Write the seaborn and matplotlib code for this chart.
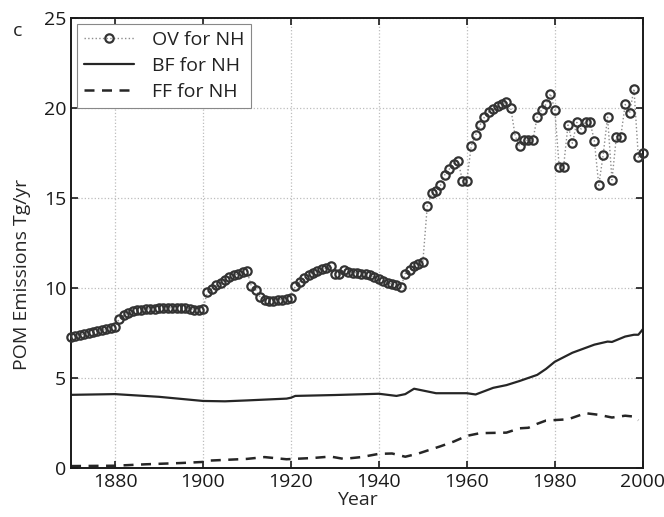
import numpy as np
import matplotlib
matplotlib.use("Agg")
import matplotlib.pyplot as plt
import seaborn as sns

# OV emissions, one value per year 1870-2000
ov_years = np.arange(1870, 2001)
ov_vals = [
    7.25, 7.35, 7.4, 7.45, 7.5, 7.55, 7.6, 7.65, 7.7, 7.8, 7.85,
    8.3, 8.5, 8.6, 8.7, 8.75, 8.8, 8.82, 8.85, 8.85, 8.88,
    8.9, 8.9, 8.9, 8.9, 8.9, 8.88, 8.85, 8.8, 8.75, 8.85,
    9.75, 9.95, 10.15, 10.3, 10.45, 10.6, 10.7, 10.8, 10.9, 10.95,
    10.1, 9.9, 9.5, 9.35, 9.25, 9.3, 9.35, 9.35, 9.4, 9.45,
    10.1, 10.35, 10.55, 10.7, 10.85, 10.95, 11.05, 11.1, 11.2, 10.8,
    10.75, 11.0, 10.9, 10.85, 10.85, 10.8, 10.75, 10.7, 10.6, 10.5,
    10.4, 10.3, 10.2, 10.15, 10.05, 10.8, 11.0, 11.2, 11.35, 11.45,
    14.56, 15.26, 15.4, 15.7, 16.3, 16.6, 16.9, 17.07, 15.96, 15.96,
    17.9, 18.5, 19.06, 19.5, 19.8, 19.95, 20.1, 20.2, 20.35, 19.98,
    18.44, 17.9, 18.2, 18.2, 18.2, 19.5, 19.9, 20.2, 20.8, 19.9,
    16.74, 16.74, 19.06, 18.04, 19.2, 18.83, 19.24, 19.24, 18.17, 15.7,
    17.4, 19.5, 16.0, 18.4, 18.4, 20.2, 19.7, 21.07, 17.26, 17.5,
]

# BF (biofuel) emissions
bf_years = [1870, 1880, 1890, 1900, 1905, 1910, 1919, 1920, 1921, 1930, 1940, 1944,
            1946, 1948, 1950, 1953, 1960, 1962, 1966, 1969, 1972, 1976, 1978, 1980,
            1984, 1989, 1992, 1993, 1996, 1998, 1999, 2000]
bf_vals = [4.06, 4.1, 3.95, 3.72, 3.7, 3.75, 3.85, 3.9, 4.0, 4.05, 4.12, 4.0,
           4.1, 4.4, 4.3, 4.15, 4.15, 4.08, 4.45, 4.6, 4.83, 5.17, 5.5, 5.9,
           6.4, 6.85, 7.02, 7.0, 7.3, 7.4, 7.4, 7.7]

# FF (fossil fuel) emissions
ff_years = [1870, 1880, 1887, 1895, 1900, 1901, 1910, 1914, 1919, 1925, 1929, 1932,
            1936, 1940, 1943, 1946, 1949, 1954, 1957, 1960, 1963, 1969, 1972, 1974,
            1976, 1978, 1983, 1987, 1990, 1993, 1996, 1998, 1999]
ff_vals = [0.1, 0.12, 0.2, 0.27, 0.33, 0.4, 0.5, 0.6, 0.48, 0.55, 0.63, 0.5,
           0.6, 0.78, 0.8, 0.62, 0.8, 1.2, 1.46, 1.78, 1.93, 1.96, 2.2, 2.23,
           2.45, 2.63, 2.7, 3.04, 2.95, 2.8, 2.9, 2.85, 2.65]

sns.set_style("ticks")
plt.rcParams['font.family'] = ['Open Sans', 'DejaVu Sans']
plt.rcParams['text.color'] = "#222222"
plt.rcParams['xtick.color'] = "#1a1a1a"
plt.rcParams['ytick.color'] = "#1a1a1a"

fig = plt.figure(figsize=(6.64, 5.17), dpi=100)
ax = fig.add_axes([0.107, 0.095, 0.861, 0.870])

sns.lineplot(x=ov_years, y=ov_vals, ax=ax, color="#8c8c8c", linestyle=":", linewidth=1.0,
             marker="o", markersize=6, markerfacecolor="none", markeredgecolor="#333333",
             markeredgewidth=1.6, label="OV for NH", clip_on=False, zorder=3)
sns.lineplot(x=bf_years, y=bf_vals, ax=ax, color="#262626", linewidth=1.6, label="BF for NH")
sns.lineplot(x=ff_years, y=ff_vals, ax=ax, color="#262626", linewidth=1.8,
             linestyle=(0, (4, 3)), label="FF for NH")

ax.set_xlim(1870, 2000)
ax.set_ylim(0, 25)
ax.set_xticks([1880, 1900, 1920, 1940, 1960, 1980, 2000])
ax.set_yticks([0, 5, 10, 15, 20, 25])
ax.grid(True, linestyle=":", color="#bdbdbd", linewidth=0.9)
ax.tick_params(direction="in", top=True, right=True, labelsize=14, length=5, width=1.2)
for s in ax.spines.values():
    s.set_linewidth(1.4)
    s.set_color("#1a1a1a")

ax.set_xlabel("Year", fontsize=14, labelpad=0)
ax.set_ylabel("POM Emissions Tg/yr", fontsize=14)
ax.yaxis.set_label_coords(-0.07, 0.43)

leg = ax.legend(loc="upper left", bbox_to_anchor=(0.01, 0.987), borderaxespad=0,
                fontsize=14, fancybox=False, framealpha=1, edgecolor="#888888",
                handlelength=2.6, labelspacing=0.42, borderpad=0.35, handletextpad=0.9)
leg.get_frame().set_linewidth(0.8)

fig.text(0.02, 0.93, "c", fontsize=14)

plt.savefig("out.png", dpi=100)
